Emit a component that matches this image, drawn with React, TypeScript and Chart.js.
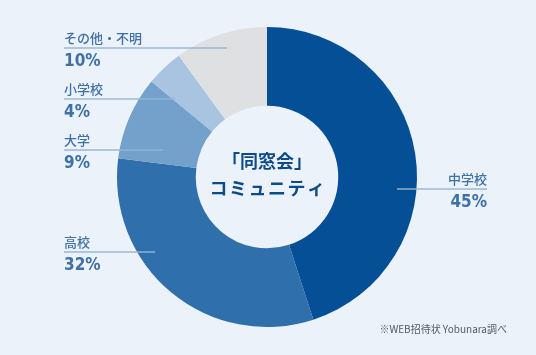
import React, { useEffect, useRef } from "react";
import { Chart, registerables } from "chart.js";

Chart.register(...registerables);

const categories = ["中学校", "高校", "大学", "小学校", "その他・不明"];
const values = [45, 32, 9, 4, 10];
const percentLabels = ["45%", "32%", "9%", "4%", "10%"];
const colors = ["#054f97", "#2f6fab", "#74a1cb", "#a8c4e0", "#dfe0e2"];
const centerLines = ["「同窓会」", "コミュニティ"];
const sourceNote = "※WEB招待状 Yobunara調べ";

// label layout: text anchor x, line y, line start x, line end x, align
const labelLayout = [
  { x: 487, y: 189, x0: 397, x1: 487, align: "right" },
  { x: 64, y: 252, x0: 64, x1: 155, align: "left" },
  { x: 64, y: 150, x0: 64, x1: 163, align: "left" },
  { x: 64, y: 99, x0: 64, x1: 175, align: "left" },
  { x: 64, y: 48, x0: 64, x1: 227, align: "left" },
];

const JP = '"Noto Sans CJK JP", "Noto Sans", sans-serif';

export default function App() {
  const ref = useRef<HTMLCanvasElement | null>(null);
  useEffect(() => {
    if (!ref.current) return;
    const overlay = {
      id: "overlay",
      afterDraw(chart: any) {
        const ctx = chart.ctx as CanvasRenderingContext2D;
        ctx.save();
        // leader lines
        labelLayout.forEach((l) => {
          ctx.strokeStyle = "rgba(150,180,212,0.95)";
          ctx.lineWidth = 1.5;
          ctx.beginPath();
          ctx.moveTo(l.x0, l.y);
          ctx.lineTo(l.x1, l.y);
          ctx.stroke();
        });
        // labels
        labelLayout.forEach((l, i) => {
          ctx.textAlign = l.align as CanvasTextAlign;
          ctx.fillStyle = "#3f70a6";
          ctx.textBaseline = "alphabetic";
          ctx.font = `500 13px ${JP}`;
          ctx.fillText(categories[i], l.x, l.y - 5);
          ctx.font = `bold 17px "Liberation Sans Narrow", "DejaVu Sans Condensed", sans-serif`;
          ctx.fillText(percentLabels[i], l.x, l.y + 18);
        });
        // center text
        const arc = chart.getDatasetMeta(0).data[0];
        const cx = arc.x;
        const cy = arc.y;
        ctx.textAlign = "center";
        ctx.textBaseline = "middle";
        ctx.fillStyle = "#0d4a88";
        ctx.font = `bold 18px ${JP}`;
        ctx.fillText(centerLines[0], cx, cy - 16);
        (ctx as any).letterSpacing = "1.5px";
        ctx.fillText(centerLines[1], cx + 1, cy + 11);
        (ctx as any).letterSpacing = "0px";
        // source
        ctx.textAlign = "right";
        ctx.textBaseline = "alphabetic";
        ctx.fillStyle = "#555b62";
        ctx.font = `10px ${JP}`;
        ctx.fillText(sourceNote, 507, 333);
        ctx.restore();
      },
    };
    const chart = new Chart(ref.current, {
      type: "doughnut",
      data: {
        labels: categories,
        datasets: [
          {
            data: values,
            backgroundColor: colors,
            borderWidth: 0,
          },
        ],
      },
      options: {
        animation: false,
        responsive: false,
        cutout: "47.5%",
        layout: { padding: { top: 27, bottom: 28, left: 0, right: 2 } },
        plugins: {
          legend: { display: false },
          tooltip: { enabled: false },
        },
      },
      plugins: [overlay],
    });
    return () => chart.destroy();
  }, []);
  return (
    <div
      style={{
        position: "absolute",
        left: 0,
        top: 0,
        width: 536,
        height: 355,
        background: "#ebf2f9",
      }}
    >
      <canvas ref={ref} width={536} height={355} style={{ width: 536, height: 355 }} />
    </div>
  );
}
